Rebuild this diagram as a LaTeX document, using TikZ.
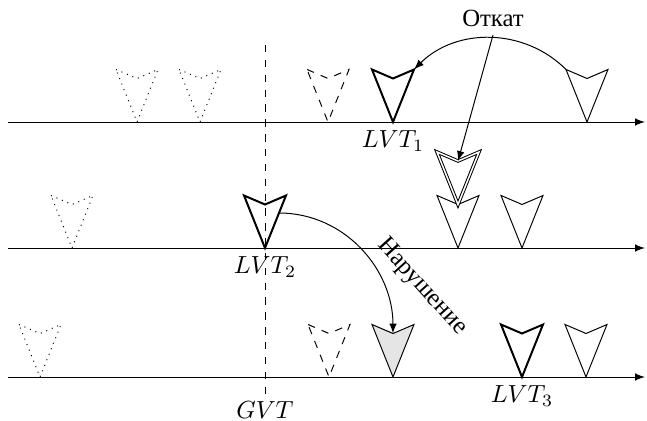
\documentclass[tikz,border=0pt]{standalone}
\usepackage{fontspec}
\newfontfamily\cyr{Liberation Serif}

\tikzset{
  % one event on a time line, tip on the axis
  event/.pic={
    \draw[pic actions] (-0.42,1.05) -- (0,0.87) -- (0.42,1.05) -- (0,0) -- cycle;
    \coordinate (-tip) at (0,0);
    \coordinate (-notch) at (0,0.87);
    \coordinate (-left) at (-0.42,1.05);
    \coordinate (-right) at (0.42,1.05);
    \coordinate (-side) at (0.28,0.7);
  },
  timeline/.style={-latex},
  lvtlabel/.style={below},
}

\begin{document}
\begin{tikzpicture}[x=0.71cm,y=0.71cm]
\useasboundingbox (0,0) rectangle (12.94,8.4);

%GVT line
\draw[dashed] (5.3,7.5) -- (5.3,0.38) coordinate (gvt);
\node[below,inner sep=0pt] (gvtlabel) at (gvt) {$GVT$};

%%%%%%%%%%%% First process %%%%%%%%%%%%%%%%%%%

\draw[timeline] (0.16,5.96) -- (12.9,5.96);
\pic[dotted] (pa) at (2.74,5.96) {event};
\pic[dotted] (pb) at (4.0,5.96) {event};
\pic[dashed] (pc) at (6.56,5.96) {event};
\pic[thick] (lvta) at (7.86,5.96) {event};
\pic (pd) at (11.74,5.96) {event};
\node[lvtlabel] (lvtalabel) at (lvta-tip) {$LVT_1$};

%%%%%%%%%%%% Second process %%%%%%%%%%%%%%%%%%%

\draw[timeline] (0.16,3.44) -- (12.9,3.44);
\pic[dotted] (qa) at (1.44,3.44) {event};
\pic[thick] (lvtb) at (5.3,3.44) {event};
\pic (qb) at (9.16,3.44) {event};
\pic (qc) at (10.44,3.44) {event};
% Antimessage sitting on top
\pic[double] (anti) at (9.16,4.31) {event};
\node[lvtlabel] (lvtblabel) at (lvtb-tip) {$LVT_2$};

%%%%%%%%%%%% Third process %%%%%%%%%%%%%%%%%%%

\draw[timeline] (0.16,0.86) -- (12.9,0.86);
\pic[dotted] (ra) at (0.8,0.86) {event};
\pic[dashed] (rb) at (6.58,0.86) {event};
\pic[fill=gray!20] (late) at (7.86,0.86) {event};
\pic[thick] (lvtc) at (10.44,0.86) {event};
\pic (rc) at (11.72,0.86) {event};
\node[lvtlabel] (lvtclabel) at (lvtc-tip) {$LVT_3$};

%Rollback
\node (otkat) at (9.86,8.04) {\cyr Откат};
\draw[-latex] (pd-left) to[bend right=45] (lvta-right);
\draw[-latex] (otkat.south) -- (anti-notch);

%Violation
\draw[-latex] (lvtb-side) to[out=0,in=90] (late-notch);
\node[rotate=-48] (narush) at (8.44,2.66) {\cyr Нарушение};

\end{tikzpicture}
\end{document}
